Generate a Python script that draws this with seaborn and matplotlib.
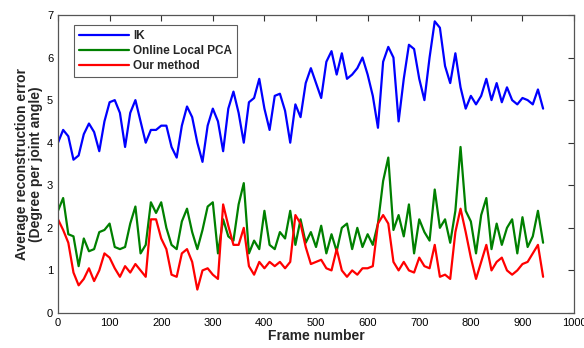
import numpy as np
import pandas as pd
import matplotlib
matplotlib.use("Agg")
import matplotlib.pyplot as plt
import seaborn as sns

# === data (every 10 frames) ===
frames = np.arange(0, 950, 10)

ik = [4.0, 4.3, 4.15, 3.6, 3.7, 4.2, 4.45, 4.25, 3.8, 4.5,
      4.95, 5.0, 4.7, 3.9, 4.7, 5.0, 4.5, 4.0, 4.3, 4.3,
      4.4, 4.4, 3.9, 3.65, 4.4, 4.85, 4.6, 4.0, 3.55, 4.4,
      4.8, 4.5, 3.8, 4.8, 5.2, 4.7, 4.0, 4.95, 5.05, 5.5,
      4.8, 4.3, 5.1, 5.15, 4.75, 4.0, 4.9, 4.6, 5.4, 5.75,
      5.4, 5.05, 5.9, 6.15, 5.6, 6.1, 5.5, 5.6, 5.75, 6.0,
      5.6, 5.1, 4.35, 5.9, 6.25, 6.0, 4.5, 5.5, 6.3, 6.2,
      5.5, 5.0, 6.0, 6.85, 6.7, 5.8, 5.4, 6.1, 5.3, 4.8,
      5.1, 4.9, 5.1, 5.5, 5.0, 5.4, 4.95, 5.3, 5.0, 4.9,
      5.05, 5.0, 4.9, 5.25, 4.8]

online_pca = [2.4, 2.7, 1.85, 1.8, 1.1, 1.75, 1.45, 1.5, 1.9, 1.95,
              2.1, 1.55, 1.5, 1.55, 2.1, 2.5, 1.4, 1.6, 2.6, 2.35,
              2.6, 2.0, 1.6, 1.5, 2.15, 2.45, 1.9, 1.5, 1.95, 2.5,
              2.6, 1.4, 2.2, 1.8, 1.7, 2.55, 3.05, 1.4, 1.7, 1.5,
              2.4, 1.6, 1.5, 1.9, 1.75, 2.4, 1.6, 2.2, 1.65, 1.9,
              1.55, 2.05, 1.4, 1.85, 1.45, 2.0, 2.1, 1.5, 2.0, 1.55,
              1.85, 1.6, 2.1, 3.1, 3.65, 1.95, 2.3, 1.8, 2.55, 1.4,
              2.2, 1.9, 1.7, 2.9, 2.0, 2.2, 1.65, 2.4, 3.9, 2.4,
              2.15, 1.4, 2.3, 2.7, 1.5, 2.1, 1.6, 2.0, 2.2, 1.4,
              2.25, 1.55, 1.8, 2.4, 1.65]

our_method = [2.2, 1.95, 1.65, 0.95, 0.65, 0.8, 1.05, 0.75, 1.0, 1.4,
              1.3, 1.05, 0.85, 1.1, 0.95, 1.15, 1.0, 0.85, 2.2, 2.2,
              1.75, 1.5, 0.9, 0.85, 1.4, 1.5, 1.2, 0.55, 1.0, 1.05,
              0.9, 0.8, 2.55, 2.05, 1.6, 1.6, 2.0, 1.1, 0.9, 1.2,
              1.05, 1.2, 1.1, 1.2, 1.05, 1.2, 2.3, 2.1, 1.55, 1.15,
              1.2, 1.25, 1.05, 1.0, 1.5, 1.0, 0.85, 1.0, 0.9, 1.05,
              1.05, 1.1, 2.1, 2.3, 2.1, 1.2, 1.0, 1.2, 1.0, 0.95,
              1.3, 1.1, 1.05, 1.6, 0.85, 0.9, 0.8, 1.9, 2.45, 1.9,
              1.3, 0.8, 1.2, 1.6, 1.0, 1.2, 1.3, 1.0, 0.9, 1.0,
              1.15, 1.2, 1.4, 1.6, 0.85]

methods = ["IK", "Online Local PCA", "Our method"]
colors = ["#0000ff", "#008000", "#ff0000"]

df = pd.DataFrame({
    "frame": np.tile(frames, 3),
    "error": ik + online_pca + our_method,
    "method": np.repeat(methods, len(frames)),
})

# === plot ===
sns.set_style("white")
plt.rcParams["font.family"] = ["Liberation Sans", "DejaVu Sans"]

fig = plt.figure(figsize=(5.84, 3.48), dpi=100)
ax = fig.add_axes([0.0993, 0.1006, 0.8837, 0.8564])

sns.lineplot(data=df, x="frame", y="error", hue="method",
             hue_order=methods, palette=colors, linewidth=1.6, ax=ax)

ax.set_xlim(0, 1000)
ax.set_ylim(0, 7)
ax.set_xticks(np.arange(0, 1001, 100))
ax.set_yticks(np.arange(0, 8, 1))
ax.tick_params(direction="in", length=4, labelsize=8, top=True, right=True,
               width=0.8, colors="#333333", labelcolor="black")
for s in ax.spines.values():
    s.set_color("#555555")
    s.set_linewidth(0.9)

ax.set_xlabel("Frame number", fontsize=10, fontweight="bold", labelpad=1)
ax.set_ylabel("Average reconstruction error\n(Degree per joint angle)",
              fontsize=10, fontweight="bold", labelpad=3, linespacing=1.0)

leg = ax.legend(loc="upper left", bbox_to_anchor=(0.02, 0.985), frameon=True,
                fancybox=False, edgecolor="#333333", fontsize=8.5,
                prop={"weight": "bold", "size": 8.5}, handlelength=4.2,
                handletextpad=0.4, borderpad=0.4, labelspacing=0.25)
leg.get_frame().set_linewidth(0.8)

fig.savefig("out.png", dpi=100)
